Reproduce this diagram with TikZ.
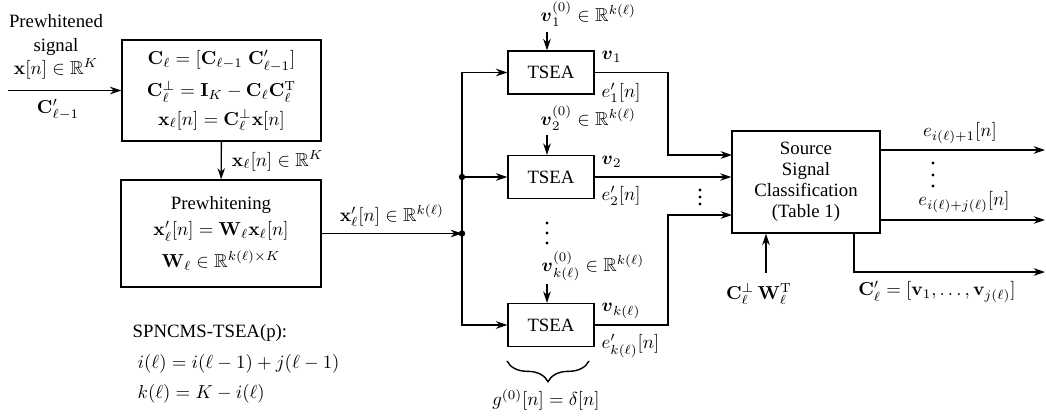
\documentclass[tikz,border=0pt]{standalone}
\usepackage[no-math]{fontspec}
\setmainfont{Liberation Serif}
\usepackage{amsmath,amssymb}
\usetikzlibrary{positioning, arrows.meta, decorations.pathreplacing}

\begin{document}
\begin{tikzpicture}[
        x=0.0187cm, y=-0.0187cm,
        font=\fontsize{10}{12}\selectfont,
        >={Stealth[length=6pt, width=4pt]},
        line width=0.75pt,
        box/.style={rectangle, draw, line width=0.75pt, align=center, inner sep=0pt},
        tsea/.style={box, minimum width=45.8pt, minimum height=22.9pt},
        arrow/.style={->},
        junction/.style={circle, fill, inner sep=0pt, minimum size=3.4pt},
        lbl/.style={inner sep=0pt}
    ]
        \useasboundingbox (0,0) rectangle (1046,418);

        % Projection and prewhitening
        \node[box, minimum width=105.9pt, minimum height=53.7pt] (proj) at (221.5,90.5)
            {$\mathbf{C}_\ell = [\mathbf{C}_{\ell-1}\;\mathbf{C}'_{\ell-1}]$\\[4pt]
             $\mathbf{C}_\ell^{\perp} = \mathbf{I}_K - \mathbf{C}_\ell\mathbf{C}_\ell^{\mathrm{T}}$\\[3pt]
             $\mathbf{x}_\ell[n] = \mathbf{C}_\ell^{\perp}\mathbf{x}[n]$};
        \node[box, minimum width=106.4pt, minimum height=56.9pt] (prew) at (221,233.5)
            {Prewhitening\\[2pt]
             $\mathbf{x}'_\ell[n] = \mathbf{W}_\ell\mathbf{x}_\ell[n]$\\[5pt]
             $\mathbf{W}_\ell \in \mathbb{R}^{k(\ell)\times K}$};

        \coordinate (in) at (8,90.5);
        \node[align=center, anchor=south, inner sep=1pt, font=\fontsize{10}{12.5}\selectfont] (inlbl) at (56,82)
            {Prewhitened\\signal\\$\mathbf{x}[n]\in\mathbb{R}^K$};
        \node (cprev) at (58,110) {$\mathbf{C}'_{\ell-1}$};

        \draw[arrow] (in) -- (proj);
        \draw[arrow] (proj) -- (prew) node[midway, right, xshift=2pt] {$\mathbf{x}_\ell[n]\in\mathbb{R}^K$};

        % TSEA bank
        \node[tsea] (t1) at (551,72.5) {TSEA};
        \node[tsea] (t2) at (551,177) {TSEA};
        \node[tsea] (t3) at (551,325) {TSEA};

        \coordinate (jA) at (462,233.5);
        \coordinate (jB) at (jA |- t2);
        \draw[arrow] (prew) -- (jA) node[midway, above] {$\mathbf{x}'_\ell[n]\in\mathbb{R}^{k(\ell)}$};
        \draw[arrow] (jA) |- (t1);
        \draw[arrow] (jA) |- (t3);
        \draw[arrow] (jB) -- (t2);
        \node[junction] (dotA) at (jA) {};
        \node[junction] (dotB) at (jB) {};

        % initial vectors
        \coordinate (v1in) at (547,32);
        \coordinate (v2in) at (547,135);
        \coordinate (v3in) at (547,284);
        \node[lbl, anchor=base west] (v1lbl) at (540,21) {$\boldsymbol{v}_1^{(0)}\in\mathbb{R}^{k(\ell)}$};
        \node[lbl, anchor=base west] (v2lbl) at (540,125) {$\boldsymbol{v}_2^{(0)}\in\mathbb{R}^{k(\ell)}$};
        \node[lbl, anchor=base west] (v3lbl) at (541,271) {$\boldsymbol{v}_{k(\ell)}^{(0)}\in\mathbb{R}^{k(\ell)}$};
        \draw[arrow] (v1in) -- (v1in |- t1.north);
        \draw[arrow] (v2in) -- (v2in |- t2.north);
        \draw[arrow] (v3in) -- (v3in |- t3.north);
        \foreach \y in {223,233,243} \fill (547,\y) circle (0.9pt);

        \node[lbl, anchor=west] (v1out) at (601,57) {$\boldsymbol{v}_1$};
        \node[lbl, anchor=west] (e1out) at (601,93) {$e'_1[n]$};
        \node[lbl, anchor=west] (v2out) at (601,162) {$\boldsymbol{v}_2$};
        \node[lbl, anchor=west] (e2out) at (601,196) {$e'_2[n]$};
        \node[lbl, anchor=west] (v3out) at (601,311) {$\boldsymbol{v}_{k(\ell)}$};
        \node[lbl, anchor=west] (e3out) at (601,346) {$e'_{k(\ell)}[n]$};

        \draw[decorate, decoration={brace, mirror, amplitude=11pt}] (507,361) -- (589,361);
        \node (gdelta) at (546,400) {$g^{(0)}[n]=\delta[n]$};

        % Source signal classification
        \node[box, font=\fontsize{10}{11.2}\selectfont, minimum width=78.7pt, minimum height=54.3pt] (cls) at (806,182)
            {Source\\Signal\\Classification\\(Table 1)};

        \coordinate (bend) at (668,0);
        \coordinate (s1) at (732,155);
        \coordinate (s3) at (732,215);
        \draw[arrow] (t1.east) -- (t1.east -| bend) |- (s1);
        \draw[arrow] (t2.east) -- (t2.east -| cls.west);
        \draw[arrow] (t3.east) -- (t3.east -| bend) |- (s3);
        \foreach \y in {190,197,204} \fill (700,\y) circle (0.9pt);

        \coordinate (cb) at (766,273);
        \draw[arrow] (cb) -- (cb |- cls.south);
        \node (cwlbl) at (759,294) {$\mathbf{C}_\ell^{\perp}\,\mathbf{W}_\ell^{\mathrm{T}}$};

        \coordinate (o1) at (1045,150);
        \coordinate (o2) at (1045,220);
        \coordinate (o3) at (1045,272);
        \coordinate (down) at (854,0);
        \draw[arrow] (o1 -| cls.east) -- (o1);
        \draw[arrow] (o2 -| cls.east) -- (o2);
        \draw[arrow] (cls.south -| down) |- (o3);
        \node (e1lbl) at (960,133) {$e_{i(\ell)+1}[n]$};
        \foreach \y in {163,175,186} \fill (933,\y) circle (0.9pt);
        \node (e2lbl) at (964,202) {$e_{i(\ell)+j(\ell)}[n]$};
        \node (cnew) at (937,292) {$\mathbf{C}'_\ell=[\mathbf{v}_1,\ldots,\mathbf{v}_{j(\ell)}]$};

        % Algorithm note
        \node[lbl, anchor=west] (algo) at (132,333) {SPNCMS-TSEA(p):};
        \node[lbl, anchor=west] (ieq) at (137,364) {$i(\ell)=i(\ell-1)+j(\ell-1)$};
        \node[lbl, anchor=west] (keq) at (137,394) {$k(\ell)=K-i(\ell)$};
    \end{tikzpicture}
\end{document}
